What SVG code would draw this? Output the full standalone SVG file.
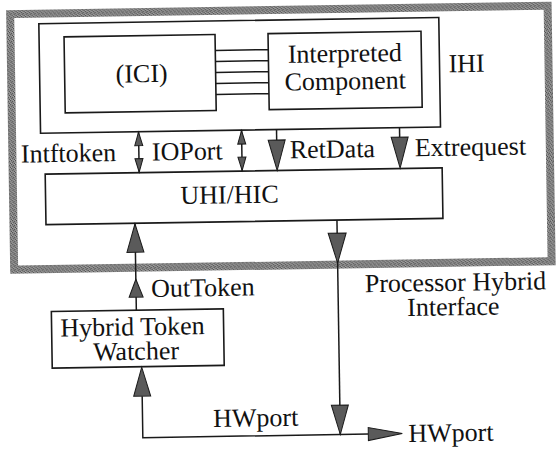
<svg xmlns="http://www.w3.org/2000/svg" width="556" height="449" viewBox="0 0 556 449">
  <defs>
    <!-- speckled grey used for the heavy outer frame -->
    <pattern id="grain" width="4" height="4" patternUnits="userSpaceOnUse">
      <rect width="4" height="4" fill="#8c8c8c"/>
      <rect x="0" y="0" width="1" height="1" fill="#3a3a3a"/>
      <rect x="2" y="1" width="1" height="1" fill="#4a4a4a"/>
      <rect x="1" y="2" width="1" height="1" fill="#555"/>
      <rect x="3" y="3" width="1" height="1" fill="#3f3f3f"/>
      <rect x="3" y="0" width="1" height="1" fill="#b5b5b5"/>
      <rect x="0" y="3" width="1" height="1" fill="#b0b0b0"/>
    </pattern>
    <style>
      .box { fill: #fff; stroke: #1a1a1a; stroke-width: 1.6; }
      .frame { fill: none; stroke: url(#grain); stroke-width: 8; }
      .wire { fill: none; stroke: #1a1a1a; stroke-width: 1.5; }
      .head { fill: #5a5a5a; stroke: #1a1a1a; stroke-width: 1; stroke-linejoin: miter; }
      .t { font-family: "Liberation Serif", "DejaVu Serif", serif; font-size: 26px; fill: #111; }
      .c { text-anchor: middle; }
    </style>
  </defs>

  <rect width="556" height="449" fill="#fff"/>

  <g transform="rotate(-0.9 278 224)">
    <!-- Processor Hybrid Interface boundary -->
    <g id="phi">
      <rect class="frame" x="13.5" y="10" width="537.5" height="255.5"/>
      <text class="t c" x="454.5" y="293.5">Processor Hybrid</text>
      <text class="t c" x="452" y="318">Interface</text>
    </g>

    <!-- IHI container -->
    <g id="ihi">
      <rect class="box" x="42" y="20" width="400" height="109.5"/>
      <text class="t" x="451" y="75">IHI</text>
    </g>

    <g id="ici">
      <rect class="box" x="67" y="33.5" width="151" height="76"/>
      <text class="t c" x="144" y="80">(ICI)</text>
    </g>

    <g id="interpreted-component">
      <rect class="box" x="271" y="33.5" width="153" height="76"/>
      <text class="t c" x="347.5" y="63">Interpreted</text>
      <text class="t c" x="347.5" y="90.5">Component</text>
    </g>

    <g id="uhi-hic">
      <rect class="box" x="46" y="170.5" width="397" height="50.5"/>
      <text class="t c" x="230" y="202.5">UHI/HIC</text>
    </g>

    <g id="hybrid-token-watcher">
      <rect class="box" x="50" y="308" width="172" height="56.5"/>
      <text class="t c" x="131" y="333">Hybrid Token</text>
      <text class="t c" x="134" y="357.5">Watcher</text>
    </g>

    <!-- connectors -->
    <g id="connectors">
      <!-- bus between ICI and the interpreted component -->
      <line class="wire" x1="218" y1="49.5" x2="271" y2="49.5"/>
      <line class="wire" x1="218" y1="60.5" x2="271" y2="60.5"/>
      <line class="wire" x1="218" y1="71.5" x2="271" y2="71.5"/>
      <line class="wire" x1="218" y1="82.5" x2="271" y2="82.5"/>
      <line class="wire" x1="218" y1="93.5" x2="271" y2="93.5"/>

      <!-- Intftoken (bidirectional) -->
      <line class="wire" x1="140" y1="129.5" x2="140" y2="170.5"/>
      <polygon class="head" points="140,130 136,143.5 144,143.5"/>
      <polygon class="head" points="140,170 136,156.5 144,156.5"/>
      <!-- IOPort (bidirectional) -->
      <line class="wire" x1="243" y1="129.5" x2="243" y2="170.5"/>
      <polygon class="head" points="243,130 239,143.5 247,143.5"/>
      <polygon class="head" points="243,170 239,156.5 247,156.5"/>
      <!-- RetData -->
      <line class="wire" x1="278" y1="129.5" x2="278" y2="140"/>
      <polygon class="head" points="269.5,140 286.5,140 278,170.5"/>
      <!-- Extrequest -->
      <line class="wire" x1="401" y1="129.5" x2="401" y2="139"/>
      <polygon class="head" points="392.5,139 409.5,139 401,170"/>
      <text class="t" x="22" y="158.5">Intftoken</text>
      <text class="t" x="153" y="158.5">IOPort</text>
      <text class="t" x="291" y="158.5">RetData</text>
      <text class="t" x="416" y="158.5">Extrequest</text>

      <!-- OutToken: watcher up to UHI/HIC -->
      <line class="wire" x1="135" y1="221" x2="135" y2="308"/>
      <polygon class="head" points="135,221.5 126.5,250 143.5,250"/>
      <polygon class="head" points="135,277 128,295 142,295"/>
      <text class="t" x="150" y="295">OutToken</text>

      <!-- HWport: UHI/HIC down to the hardware port -->
      <line class="wire" x1="337" y1="221" x2="337" y2="435.5"/>
      <polygon class="head" points="328,234 346,234 337,264"/>
      <polygon class="head" points="328.5,406 345.5,406 337,435.5"/>

      <!-- HWport feed into the watcher and out to the right -->
      <polyline class="wire" points="139.5,394 139.5,435.5 365,435.5"/>
      <polygon class="head" points="139.5,365 131,394 148,394"/>
      <polygon class="head" points="365,429 365,442 399,435.5"/>
      <text class="t" x="210" y="426">HWport</text>
      <text class="t" x="405" y="444">HWport</text>
    </g>
  </g>
</svg>
